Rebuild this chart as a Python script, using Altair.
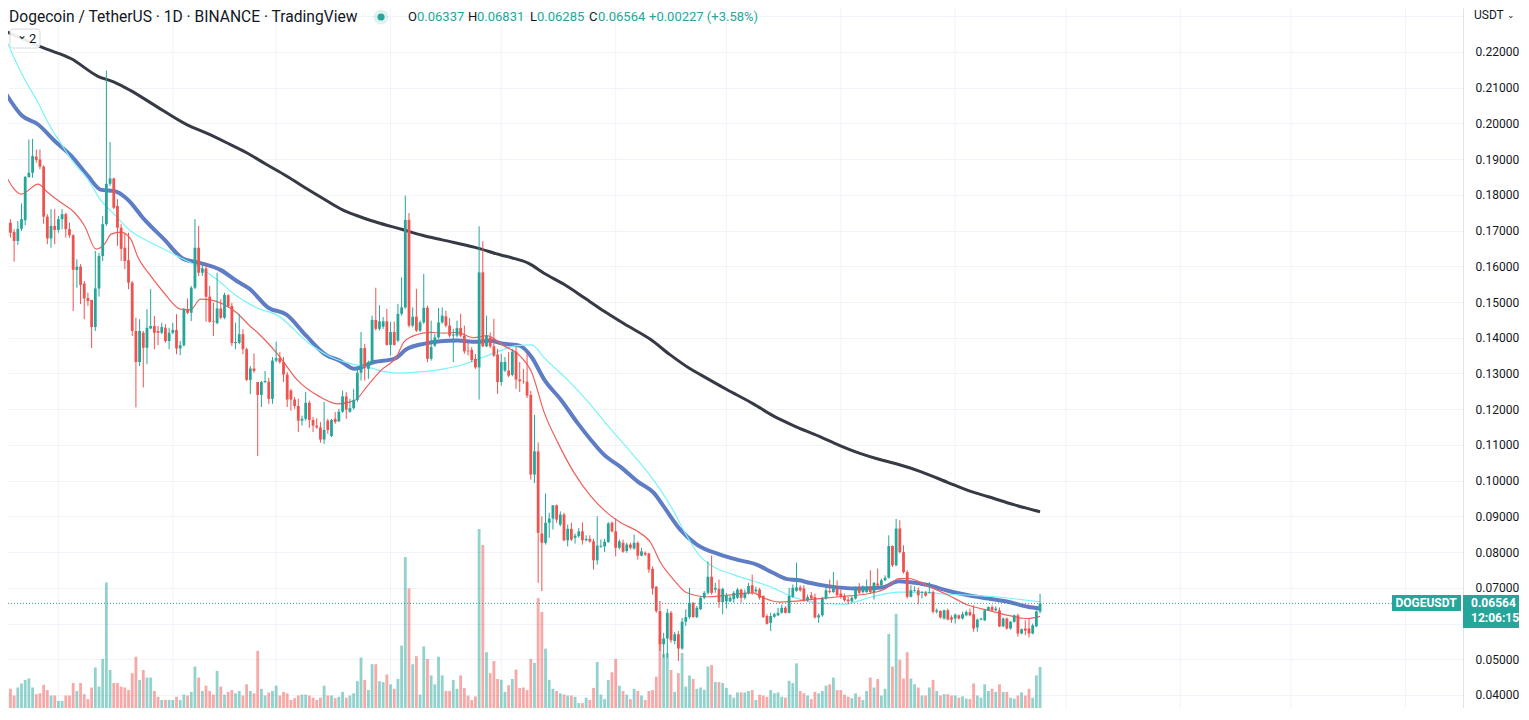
import altair as alt
import pandas as pd

# ------------------------------------------------------------------ data
opens = [
0.1685,0.1722,0.1696,0.1671,0.1705,0.1729,0.1850,0.1862,0.1907,0.1899,
0.1879,0.1739,0.1678,0.1713,0.1702,0.1732,0.1746,0.1704,0.1687,0.1590,
0.1599,0.1552,0.1511,0.1506,0.1430,0.1538,0.1629,0.1718,0.1831,0.1846,
0.1769,0.1708,0.1652,0.1617,0.1554,0.1419,0.1332,0.1414,0.1372,0.1426,
0.1433,0.1419,0.1414,0.1428,0.1391,0.1414,0.1422,0.1370,0.1379,0.1480,
0.1470,0.1540,0.1652,0.1582,0.1594,0.1515,0.1447,0.1441,0.1482,0.1456,
0.1519,0.1489,0.1385,0.1386,0.1410,0.1368,0.1282,0.1314,0.1276,0.1240,
0.1276,0.1277,0.1229,0.1336,0.1343,0.1332,0.1297,0.1252,0.1227,0.1209,
0.1168,0.1173,0.1218,0.1170,0.1154,0.1149,0.1115,0.1168,0.1125,0.1173,
0.1166,0.1193,0.1236,0.1193,0.1203,0.1226,0.1302,0.1371,0.1313,0.1332,
0.1450,0.1425,0.1431,0.1446,0.1380,0.1416,0.1392,0.1467,0.1485,0.1730,
0.1434,0.1459,0.1420,0.1443,0.1484,0.1341,0.1378,0.1401,0.1443,0.1460,
0.1434,0.1406,0.1406,0.1427,0.1406,0.1364,0.1366,0.1341,0.1317,0.1583,
0.1376,0.1401,0.1376,0.1353,0.1276,0.1308,0.1308,0.1296,0.1361,0.1283,
0.1278,0.1277,0.1240,0.1017,0.1082,0.0852,0.0826,0.0882,0.0894,0.0931,
0.0877,0.0905,0.0833,0.0865,0.0840,0.0845,0.0858,0.0833,0.0837,0.0830,
0.0777,0.0815,0.0816,0.0828,0.0882,0.0858,0.0812,0.0826,0.0803,0.0821,
0.0810,0.0826,0.0790,0.0798,0.0796,0.0753,0.0703,0.0635,0.0542,0.0558,
0.0630,0.0551,0.0570,0.0530,0.0605,0.0618,0.0658,0.0618,0.0640,0.0672,
0.0686,0.0731,0.0695,0.0697,0.0660,0.0662,0.0662,0.0668,0.0672,0.0695,
0.0672,0.0686,0.0707,0.0690,0.0695,0.0677,0.0621,0.0602,0.0619,0.0623,
0.0630,0.0644,0.0630,0.0675,0.0691,0.0701,0.0698,0.0665,0.0679,0.0674,
0.0617,0.0623,0.0670,0.0691,0.0688,0.0698,0.0684,0.0676,0.0667,0.0662,
0.0670,0.0698,0.0688,0.0688,0.0701,0.0688,0.0712,0.0707,0.0721,0.0728,
0.0817,0.0763,0.0866,0.0800,0.0744,0.0675,0.0691,0.0693,0.0686,0.0687,
0.0686,0.0688,0.0633,0.0635,0.0614,0.0637,0.0617,0.0614,0.0623,0.0614,
0.0623,0.0632,0.0626,0.0589,0.0611,0.0609,0.0637,0.0646,0.0637,0.0637,
0.0592,0.0614,0.0586,0.0605,0.0623,0.0572,0.0586,0.0586,0.0572,0.0592,
0.06337]

highs = [
0.1755,0.1732,0.1704,0.1727,0.1776,0.1853,0.1955,0.1957,0.1927,0.1927,
0.1883,0.1746,0.1760,0.1760,0.1741,0.1760,0.1750,0.1722,0.1690,0.1620,
0.1606,0.1559,0.1526,0.1506,0.1643,0.1638,0.1741,0.2148,0.1948,0.1848,
0.1788,0.1718,0.1694,0.1694,0.1559,0.1456,0.1452,0.1419,0.1480,0.1536,
0.1461,0.1433,0.1442,0.1438,0.1428,0.1442,0.1466,0.1391,0.1484,0.1510,
0.1545,0.1732,0.1713,0.1610,0.1610,0.1545,0.1498,0.1582,0.1508,0.1526,
0.1522,0.1498,0.1442,0.1466,0.1424,0.1372,0.1321,0.1356,0.1276,0.1279,
0.1307,0.1288,0.1346,0.1389,0.1360,0.1346,0.1304,0.1257,0.1234,0.1229,
0.1182,0.1248,0.1224,0.1178,0.1175,0.1164,0.1220,0.1173,0.1173,0.1192,
0.1201,0.1252,0.1248,0.1229,0.1257,0.1318,0.1416,0.1383,0.1336,0.1462,
0.1540,0.1491,0.1458,0.1481,0.1444,0.1445,0.1495,0.1569,0.1798,0.1749,
0.1485,0.1537,0.1448,0.1579,0.1490,0.1448,0.1411,0.1483,0.1485,0.1476,
0.1455,0.1425,0.1448,0.1467,0.1434,0.1387,0.1374,0.1355,0.1712,0.1670,
0.1462,0.1415,0.1453,0.1369,0.1355,0.1346,0.1360,0.1369,0.1374,0.1332,
0.1313,0.1355,0.1251,0.1184,0.1107,0.0900,0.0964,0.0910,0.0931,0.0933,
0.0914,0.0910,0.0877,0.0882,0.0852,0.0867,0.0883,0.0847,0.0847,0.0837,
0.0900,0.0835,0.0837,0.0884,0.0886,0.0895,0.0835,0.0835,0.0826,0.0826,
0.0849,0.0830,0.0812,0.0802,0.0798,0.0760,0.0705,0.0663,0.0574,0.0641,
0.0635,0.0576,0.0579,0.0616,0.0640,0.0700,0.0660,0.0649,0.0677,0.0691,
0.0774,0.0790,0.0714,0.0723,0.0700,0.0686,0.0677,0.0691,0.0700,0.0697,
0.0695,0.0714,0.0737,0.0703,0.0700,0.0679,0.0626,0.0630,0.0630,0.0644,
0.0653,0.0649,0.0700,0.0709,0.0770,0.0707,0.0707,0.0681,0.0688,0.0684,
0.0628,0.0675,0.0707,0.0723,0.0744,0.0721,0.0695,0.0684,0.0674,0.0676,
0.0704,0.0713,0.0707,0.0723,0.0749,0.0716,0.0754,0.0726,0.0735,0.0847,
0.0819,0.0893,0.0889,0.0819,0.0749,0.0707,0.0704,0.0701,0.0691,0.0691,
0.0716,0.0693,0.0642,0.0637,0.0639,0.0642,0.0623,0.0628,0.0625,0.0633,
0.0637,0.0642,0.0651,0.0614,0.0616,0.0639,0.0648,0.0651,0.0648,0.0645,
0.0617,0.0617,0.0607,0.0625,0.0628,0.0586,0.0609,0.0614,0.0600,0.0637,
0.06831]

lows = [
0.1659,0.1680,0.1613,0.1660,0.1699,0.1715,0.1848,0.1848,0.1890,0.1872,
0.1719,0.1662,0.1652,0.1662,0.1694,0.1704,0.1680,0.1680,0.1475,0.1540,
0.1494,0.1452,0.1489,0.1371,0.1419,0.1515,0.1615,0.1713,0.1825,0.1760,
0.1657,0.1615,0.1592,0.1536,0.1405,0.1205,0.1321,0.1261,0.1326,0.1424,
0.1368,0.1379,0.1410,0.1386,0.1368,0.1410,0.1354,0.1351,0.1375,0.1466,
0.1447,0.1536,0.1573,0.1573,0.1445,0.1442,0.1405,0.1438,0.1452,0.1452,
0.1484,0.1377,0.1368,0.1382,0.1354,0.1279,0.1242,0.1302,0.1069,0.1206,
0.1273,0.1215,0.1215,0.1332,0.1327,0.1276,0.1206,0.1196,0.1201,0.1136,
0.1154,0.1168,0.1148,0.1136,0.1145,0.1106,0.1103,0.1131,0.1122,0.1159,
0.1164,0.1190,0.1173,0.1190,0.1199,0.1220,0.1280,0.1280,0.1285,0.1328,
0.1420,0.1420,0.1425,0.1378,0.1350,0.1378,0.1388,0.1462,0.1481,0.1429,
0.1429,0.1416,0.1416,0.1439,0.1332,0.1336,0.1374,0.1397,0.1439,0.1429,
0.1401,0.1332,0.1401,0.1401,0.1355,0.1350,0.1332,0.1313,0.1227,0.1374,
0.1374,0.1371,0.1346,0.1243,0.1266,0.1304,0.1290,0.1292,0.1257,0.1248,
0.1271,0.1231,0.1003,0.0993,0.0714,0.0691,0.0821,0.0840,0.0863,0.0882,
0.0872,0.0830,0.0816,0.0831,0.0824,0.0840,0.0821,0.0830,0.0826,0.0751,
0.0765,0.0812,0.0800,0.0826,0.0855,0.0788,0.0807,0.0798,0.0798,0.0807,
0.0807,0.0779,0.0788,0.0789,0.0742,0.0681,0.0630,0.0523,0.0504,0.0504,
0.0546,0.0542,0.0495,0.0526,0.0593,0.0613,0.0616,0.0615,0.0638,0.0668,
0.0681,0.0681,0.0686,0.0644,0.0626,0.0642,0.0660,0.0658,0.0669,0.0658,
0.0667,0.0681,0.0681,0.0686,0.0667,0.0616,0.0597,0.0579,0.0616,0.0621,
0.0628,0.0628,0.0628,0.0672,0.0689,0.0689,0.0661,0.0661,0.0665,0.0614,
0.0602,0.0619,0.0667,0.0684,0.0686,0.0675,0.0670,0.0661,0.0654,0.0659,
0.0667,0.0682,0.0684,0.0686,0.0684,0.0667,0.0704,0.0704,0.0719,0.0726,
0.0758,0.0760,0.0796,0.0740,0.0670,0.0673,0.0689,0.0654,0.0670,0.0675,
0.0684,0.0628,0.0628,0.0614,0.0611,0.0609,0.0602,0.0600,0.0611,0.0611,
0.0620,0.0620,0.0577,0.0577,0.0609,0.0607,0.0635,0.0635,0.0635,0.0590,
0.0590,0.0583,0.0583,0.0602,0.0563,0.0570,0.0567,0.0561,0.0570,0.0590,
0.06285]

closes = [
0.1722,0.1694,0.1671,0.1705,0.1732,0.1850,0.1862,0.1909,0.1898,0.1879,
0.1739,0.1678,0.1713,0.1702,0.1732,0.1746,0.1704,0.1687,0.1590,0.1599,
0.1548,0.1510,0.1503,0.1430,0.1538,0.1629,0.1718,0.1831,0.1846,0.1764,
0.1708,0.1649,0.1615,0.1554,0.1419,0.1332,0.1419,0.1372,0.1428,0.1433,
0.1414,0.1414,0.1430,0.1391,0.1414,0.1422,0.1370,0.1379,0.1480,0.1470,
0.1540,0.1652,0.1582,0.1594,0.1515,0.1445,0.1445,0.1482,0.1456,0.1520,
0.1489,0.1385,0.1388,0.1410,0.1368,0.1282,0.1314,0.1307,0.1240,0.1276,
0.1279,0.1229,0.1336,0.1343,0.1332,0.1297,0.1227,0.1227,0.1209,0.1168,
0.1173,0.1218,0.1170,0.1154,0.1149,0.1115,0.1142,0.1142,0.1170,0.1164,
0.1193,0.1236,0.1199,0.1203,0.1226,0.1302,0.1371,0.1318,0.1332,0.1450,
0.1425,0.1446,0.1446,0.1380,0.1416,0.1380,0.1467,0.1485,0.1730,0.1434,
0.1459,0.1420,0.1443,0.1484,0.1341,0.1374,0.1401,0.1443,0.1462,0.1434,
0.1406,0.1409,0.1427,0.1406,0.1362,0.1362,0.1338,0.1317,0.1583,0.1376,
0.1406,0.1376,0.1350,0.1276,0.1332,0.1332,0.1294,0.1361,0.1283,0.1278,
0.1277,0.1238,0.1017,0.1082,0.0854,0.0826,0.0882,0.0894,0.0931,0.0891,
0.0905,0.0833,0.0865,0.0835,0.0846,0.0858,0.0833,0.0837,0.0830,0.0777,
0.0818,0.0818,0.0829,0.0880,0.0858,0.0812,0.0830,0.0801,0.0821,0.0812,
0.0826,0.0790,0.0802,0.0793,0.0751,0.0698,0.0635,0.0542,0.0558,0.0630,
0.0553,0.0570,0.0530,0.0605,0.0618,0.0658,0.0618,0.0644,0.0672,0.0686,
0.0731,0.0686,0.0700,0.0660,0.0697,0.0679,0.0672,0.0686,0.0695,0.0672,
0.0686,0.0705,0.0686,0.0695,0.0672,0.0618,0.0599,0.0621,0.0626,0.0630,
0.0644,0.0630,0.0677,0.0700,0.0701,0.0693,0.0665,0.0674,0.0670,0.0617,
0.0623,0.0670,0.0693,0.0688,0.0698,0.0679,0.0675,0.0665,0.0662,0.0672,
0.0698,0.0686,0.0698,0.0701,0.0688,0.0714,0.0707,0.0721,0.0728,0.0817,
0.0763,0.0866,0.0800,0.0744,0.0675,0.0693,0.0693,0.0679,0.0688,0.0678,
0.0688,0.0633,0.0637,0.0617,0.0637,0.0611,0.0611,0.0625,0.0614,0.0626,
0.0632,0.0623,0.0586,0.0611,0.0614,0.0637,0.0646,0.0637,0.0642,0.0592,
0.0614,0.0586,0.0605,0.0623,0.0572,0.0584,0.0580,0.0572,0.0595,0.0634,
0.06564]

volumes = [
13.8,19.2,12.5,20.5,24.5,28.1,29.5,20.5,13.8,14.7,23.2,17.9,12.5,12.5,7.1,7.1,
12.5,12.5,25,17,25,13.8,8.9,20.5,40.6,21.4,49.1,125.5,38,25,25,21.4,20.5,17.9,
34.8,51.3,28.1,38,30.4,30.4,17,11.2,8,8,8,8,11.2,8,
13.4,12.5,16.1,41.5,30.4,17,22.3,17,13.4,37.1,21.4,13.4,16.1,17.9,14.7,17,12.5,
23.7,17,14.7,57.1,19.2,12.5,15.6,17,22.3,12.5,16.1,14.7,8,9.8,12.5,13.4,13.4,
12.5,10.3,8,10.3,22.3,12.5,12.5,9.8,11.2,16.1,10.3,12.5,
14.7,26.8,50.4,28.1,17.9,43.8,43.8,26.8,25.9,33.5,23.7,19.2,29,62.5,150.9,119.6,
43.8,51.8,13.4,61.6,49.1,32.6,23.7,51.3,32.6,17,17,28.1,19.2,32.6,20.1,12.5,8,
11.6,179,163,55.8,34.8,46.9,29,28.1,16.1,22.8,29,38.4,20.1,
20.5,17.9,49.1,45.1,109.8,96,59.4,28.1,19.2,17,14.7,13.4,12.5,12.5,11.2,4.9,4.9,
10.3,8,20.1,46,13.4,8.9,28.1,35.7,49.1,22.3,17,13.4,8.9,19.2,17,12.5,8,17,17.9,
31.3,69,54,55,38,16.1,34.8,55,21.4,32.6,
29,19.2,20.5,18.3,41.5,42.9,25.9,25.9,25,20.1,13.4,10.3,15.6,15.6,15.6,17,17.9,
8,13.4,12.5,11.2,17.9,14.7,15.6,11.2,10.3,27.2,25,44.6,17,14.7,12.5,8.9,16.1,
14.7,17,22.3,23.7,30.4,17.9,17.9,13.4,11.2,9.8,14.7,
11.2,8,17,30.4,20.5,29,12.5,19.2,74.1,41.5,94.2,48.2,29.5,55.8,29.5,23.7,20.5,
12.5,12.5,20.5,28.1,17,12.5,13.8,13.8,12.5,12.5,10.3,11.6,9.4,8.9,24.6,12.5,
10.3,23.7,17,19.2,16.1,23.7,16.1,16.1,10.3,9.4,12.5,15.6,12.5,19.2,10.3,32.6,41.1]

# moving averages (day index, value)
ma_black_day = [-0.5,10.3,17.5,24.7,29.1,33.6,39.9,48.9,54.3,59.6,65.0,70.4,75.8,81.2,86.5,
                91.0,94.6,100.0,107.2,112.6,118.0,126.9,134.1,136.8,141.3,145.7,151.1,156.5,
                161.9,167.3,174.5,179.8,185.2,187.9,195.1,202.3,207.6,213.0,220.2,225.6,231.0,
                237.3,241.7,248.0,255.2,260.6,266.0,273.1,280.0]
ma_black_val = [0.2259,0.2210,0.2181,0.2132,0.2116,0.2092,0.2052,0.1996,0.1972,0.1946,0.1918,
                0.1885,0.1853,0.1818,0.1785,0.1758,0.1743,0.1724,0.1703,0.1687,0.1674,0.1653,
                0.1631,0.1624,0.1609,0.1580,0.1549,0.1512,0.1474,0.1439,0.1395,0.1352,0.1313,
                0.1297,0.1255,0.1215,0.1182,0.1155,0.1124,0.1099,0.1077,0.1057,0.1045,0.1024,
                0.0994,0.0972,0.0955,0.0932,0.0913]

ma_blue_day = [-0.5,4.0,8.5,13.0,17.5,22.0,25.6,29.1,32.7,37.2,42.6,48.0,52.5,57.9,62.3,65.9,
               70.9,75.8,81.2,86.5,90.2,94.2,99.6,105.0,108.5,113.0,117.5,122.0,127.4,130.9,
               134.6,139.0,142.2,145.7,150.2,154.7,158.3,161.9,166.4,170.9,175.4,178.0,182.5,
               187.0,193.3,197.8,203.2,207.6,211.2,214.8,217.5,222.9,230.1,237.2,241.7,244.4,
               249.8,255.2,260.6,266.0,271.3,276.7,280.0]
ma_blue_val = [0.2088,0.2023,0.1997,0.1951,0.1909,0.1853,0.1814,0.1811,0.1788,0.1732,0.1676,
               0.1620,0.1609,0.1590,0.1559,0.1536,0.1484,0.1465,0.1405,0.1352,0.1336,0.1313,
               0.1332,0.1341,0.1369,0.1383,0.1390,0.1392,0.1389,0.1392,0.1383,0.1378,0.1346,
               0.1282,0.1226,0.1161,0.1114,0.1072,0.1038,0.0998,0.0965,0.0928,0.0863,0.0821,
               0.0793,0.0779,0.0765,0.0742,0.0725,0.0721,0.0714,0.0704,0.0698,0.0701,0.0718,
               0.0716,0.0707,0.0691,0.0679,0.0670,0.0661,0.0647,0.0642]

ma_cyan_day = [-0.5,2.2,4.9,8.5,11.2,14.8,17.5,22.0,25.6,29.1,33.6,38.1,42.6,47.1,51.6,56.9,
               62.3,67.7,73.5,81.6,87.9,93.3,97.8,102.3,105.8,113.0,118.4,123.8,129.2,132.8,
               138.1,142.2,145.7,152.0,157.4,162.8,169.1,175.4,179.9,184.3,187.9,191.5,196.9,
               202.3,207.6,212.1,221.1,226.5,234.6,241.7,248.0,255.2,262.4,267.8,274.9,280.0]
ma_cyan_val = [0.2244,0.2179,0.2123,0.2058,0.2002,0.1942,0.1899,0.1843,0.1783,0.1746,0.1699,
               0.1671,0.1648,0.1624,0.1601,0.1564,0.1517,0.1484,0.1462,0.1387,0.1346,0.1327,
               0.1318,0.1305,0.1301,0.1305,0.1313,0.1325,0.1346,0.1360,0.1378,0.1380,0.1343,
               0.1282,0.1222,0.1155,0.1080,0.1000,0.0929,0.0845,0.0788,0.0759,0.0737,0.0719,
               0.0700,0.0678,0.0656,0.0654,0.0675,0.0688,0.0687,0.0682,0.0679,0.0675,0.0667,
               0.0661]

ma_red_day = [-0.5,4.0,8.5,11.2,14.8,18.4,21.1,24.2,26.5,28.3,30.9,33.6,35.4,39.0,42.6,47.1,
              49.8,52.5,55.2,58.7,62.3,65.9,68.2,73.5,78.9,84.3,89.7,94.2,97.8,101.3,105.8,
              107.6,111.2,114.8,118.4,122.0,126.5,130.1,134.6,139.0,142.2,145.7,149.4,153.8,
              158.3,162.8,166.4,170.9,174.5,177.2,180.7,184.3,189.7,195.1,202.3,205.0,209.4,
              213.0,217.5,225.6,233.7,238.2,241.7,244.4,249.8,255.2,260.6,266.0,271.3,276.7,
              280.0]
ma_red_val = [0.1858,0.1802,0.1830,0.1806,0.1778,0.1750,0.1713,0.1648,0.1662,0.1690,0.1696,
              0.1676,0.1629,0.1573,0.1526,0.1480,0.1478,0.1508,0.1506,0.1494,0.1470,0.1433,
              0.1412,0.1353,0.1280,0.1238,0.1215,0.1224,0.1266,0.1308,0.1350,0.1388,0.1409,
              0.1415,0.1413,0.1415,0.1400,0.1406,0.1378,0.1350,0.1304,0.1189,0.1105,0.1021,
              0.0956,0.0909,0.0882,0.0858,0.0826,0.0770,0.0723,0.0686,0.0675,0.0679,0.0686,
              0.0672,0.0660,0.0662,0.0667,0.0675,0.0684,0.0698,0.0726,0.0726,0.0704,0.0679,
              0.0651,0.0637,0.0623,0.0614,0.0620]

month_starts = [14, 45, 73, 104, 134, 165, 195, 226, 257, 287, 318, 348, 379]
price_ticks = [0.04, 0.05, 0.06, 0.07, 0.08, 0.09, 0.10, 0.11, 0.12, 0.13,
               0.14, 0.15, 0.16, 0.17, 0.18, 0.19, 0.20, 0.21, 0.22, 0.23]
last_price = 0.06564

assert len(opens) == len(highs) == len(lows) == len(closes) == len(volumes)

# ------------------------------------------------------------------ styling
UP = "#26a69a"
DOWN = "#ef5350"
TXT = "#131722"
PLOT_W, PLOT_H = 1455, 700

n = len(opens)
candles = pd.DataFrame({"day": list(range(n)), "open": opens, "high": highs,
                        "low": lows, "close": closes, "volume": volumes})
candles["dir"] = ["up" if c >= o else "down" for o, c in zip(opens, closes)]

x_scale = alt.Scale(domain=[1.695, 393.25], nice=False, zero=False)
y_scale = alt.Scale(domain=[0.036349, 0.232318], nice=False, zero=False)
vol_scale = alt.Scale(domain=[0, 700], nice=False, zero=True)
col = alt.Color("dir:N", scale=alt.Scale(domain=["up", "down"], range=[UP, DOWN]), legend=None)

price_axis = alt.Axis(
    orient="right", values=price_ticks,
    labelExpr="datum.value > 0.225 ? '' : format(datum.value, '.5f')",
    grid=True, gridColor="#f0f3fa", gridWidth=1, ticks=False,
    domain=True, domainColor="#e0e3eb", labelColor=TXT, labelFont="Roboto",
    labelFontSize=12, labelPadding=12, title=None, labelBound=False, labelOverlap=False)


def X():
    return alt.X("day:Q", scale=x_scale, axis=None)


def Y(field):
    return alt.Y(f"{field}:Q", scale=y_scale, axis=price_axis)


vgrid = alt.Chart(pd.DataFrame({"day": month_starts})).mark_rule(
    color="#f0f3fa", strokeWidth=1).encode(x=X())

vol = alt.Chart(candles).mark_bar(size=2.8, opacity=0.5, clip=True).encode(
    x=X(), y=alt.Y("volume:Q", scale=vol_scale, axis=None), color=col)


def ma(days, vals, color, width, opacity=1.0):
    return alt.Chart(pd.DataFrame({"day": days, "v": vals})).mark_line(
        color=color, strokeWidth=width, interpolate="monotone", clip=True,
        opacity=opacity).encode(x=X(), y=Y("v"))


black = ma(ma_black_day, ma_black_val, "#363a45", 3)
blue = ma(ma_blue_day, ma_blue_val, "#5676c2", 4, 0.95)
cyan = ma(ma_cyan_day, ma_cyan_val, "#78f3f8", 1.2)
red = ma(ma_red_day, ma_red_val, "#f0605d", 1.2)

wicks = alt.Chart(candles).mark_rule(strokeWidth=1, clip=True).encode(
    x=X(), y=Y("low"), y2=alt.Y2("high"), color=col)
bodies = alt.Chart(candles).mark_bar(size=2.8, clip=True).encode(
    x=X(), y=Y("open"), y2=alt.Y2("close"), color=col)

price_line = alt.Chart(pd.DataFrame({"p": [last_price]})).mark_rule(
    color=UP, strokeDash=[1, 2], strokeWidth=1).encode(
    y=Y("p"), x=alt.value(0), x2=alt.value(1384))

price_group = alt.layer(black, blue, cyan, red, wicks, bodies, price_line)


def txt(s, x, y, color=TXT, size=13, weight="normal", align="left", font="Roboto"):
    return alt.Chart(pd.DataFrame({"t": [s]})).mark_text(
        align=align, baseline="middle", font=font, fontSize=size,
        fontWeight=weight, color=color).encode(
        text="t:N", x=alt.value(x), y=alt.value(y))


def box(x1, x2, y1, y2, fill, stroke=None, radius=0, opacity=1.0):
    kw = dict(fill=fill, cornerRadius=radius, opacity=opacity)
    if stroke:
        kw["stroke"] = stroke
        kw["strokeWidth"] = 1
    return alt.Chart(pd.DataFrame({"a": [0]})).mark_rect(**kw).encode(
        x=alt.value(x1), x2=alt.value(x2), y=alt.value(y1), y2=alt.value(y2))


def dot(x, y, size, color, opacity=1.0):
    return alt.Chart(pd.DataFrame({"a": [0]})).mark_circle(
        color=color, size=size, opacity=opacity).encode(
        x=alt.value(x), y=alt.value(y))


header = [
    txt("Dogecoin / TetherUS · 1D · BINANCE · TradingView", 1, 9, size=15.6),
    dot(373, 9, 230, UP, 0.15),
    dot(373, 9, 50, UP),
    txt("O", 400, 9), txt("0.06337", 409, 9, color=UP),
    txt("H", 460, 9), txt("0.06831", 469, 9, color=UP),
    txt("L", 522, 9), txt("0.06285", 529, 9, color=UP),
    txt("C", 581, 9), txt("0.06564", 590, 9, color=UP),
    txt("+0.00227 (+3.58%)", 641, 9, color=UP),
    box(2, 32, 21, 40, "white", "#d1d4dc", 3, 0.9),
    txt("⌄", 9, 27, size=12, font="DejaVu Sans"),
    txt("2", 21, 31, size=13),
    txt("USDT", 1466, 7, size=12),
    txt("⌄", 1499, 7, size=9, font="DejaVu Sans"),
]

labels = [
    box(1384, 1453, 587, 603, UP),
    txt("DOGEUSDT", 1418, 595, color="white", size=12, weight="bold", align="center"),
    box(1455, 1521, 587, 620, UP),
    txt("0.06564", 1463, 595, color="white", size=12, weight="bold"),
    txt("12:06:15", 1463, 610, color="white", size=12, weight="bold"),
]

chart = alt.layer(vgrid, vol, price_group, *header, *labels).resolve_scale(
    y="independent"
).properties(
    width=PLOT_W, height=PLOT_H,
    autosize=alt.AutoSizeParams(type="none"),
    padding={"left": 0, "top": 0, "right": 56, "bottom": 0},
    background="white",
).configure_view(stroke=None)

chart.save("out.html", embed_options={"renderer": "svg", "actions": False})
